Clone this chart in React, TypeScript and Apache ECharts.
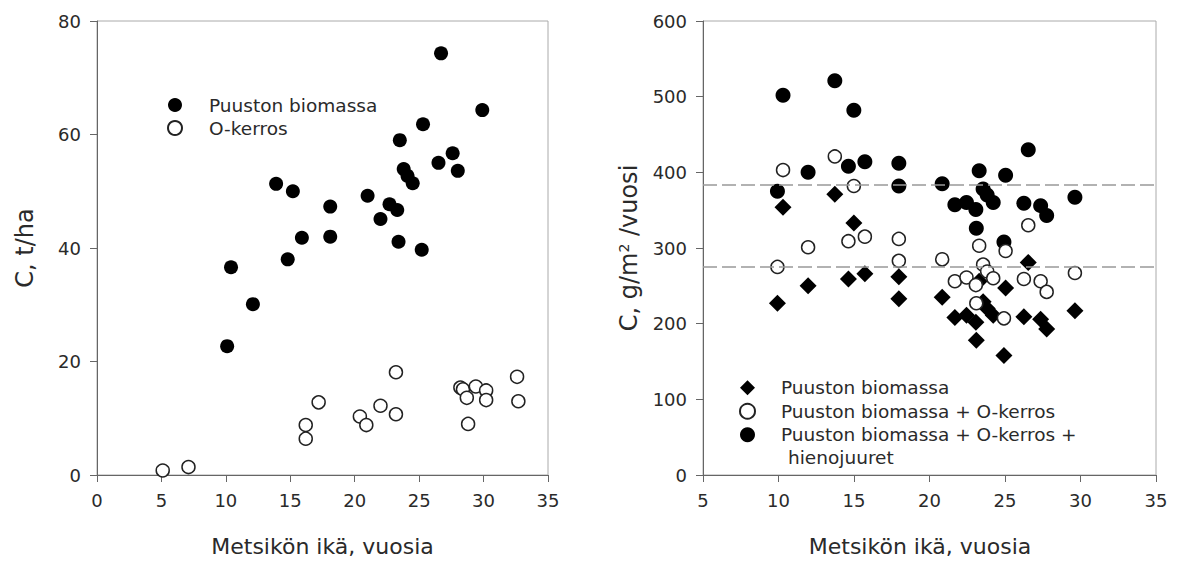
import React, { useEffect, useRef } from "react";
import * as echarts from "echarts";

// ---- Left panel: C, t/ha ----
const leftBiomassAge = [26.7, 29.9, 25.3, 23.5, 27.6, 26.5, 28.0, 23.8, 24.1, 24.5, 13.9, 15.2, 21.0, 18.1, 22.7, 23.3, 22.0, 15.9, 18.1, 23.4, 25.2, 14.8, 10.4, 12.1, 10.1];
const leftBiomassC = [74.3, 64.3, 61.8, 59.0, 56.7, 55.0, 53.6, 53.9, 52.7, 51.4, 51.3, 50.0, 49.2, 47.3, 47.7, 46.7, 45.1, 41.8, 42.0, 41.1, 39.7, 38.0, 36.6, 30.1, 22.7];
const leftOAge = [5.1, 7.1, 16.2, 16.2, 17.2, 20.4, 20.9, 22.0, 23.2, 23.2, 28.2, 28.4, 28.7, 28.8, 29.4, 30.2, 30.2, 32.6, 32.7];
const leftOC = [0.8, 1.4, 8.8, 6.4, 12.8, 10.3, 8.8, 12.2, 18.1, 10.7, 15.4, 15.1, 13.6, 9.0, 15.6, 14.9, 13.2, 17.3, 13.0];

// ---- Right panel: C, g/m2 /vuosi ----
const rightAge = [9.93, 10.3, 11.96, 13.73, 14.63, 14.99, 15.72, 17.97, 17.97, 20.84, 21.68, 22.45, 23.07, 23.1, 23.29, 23.55, 23.82, 24.22, 24.93, 25.04, 26.25, 26.54, 27.36, 27.76, 29.63];
const rightTotal = [375, 502, 400, 521, 408, 482, 414, 412, 382, 385, 357, 360, 351, 326, 402, 378, 370, 360, 308, 396, 359, 430, 356, 343, 367];
const rightWithO = [275, 403, 301, 421, 309, 382, 315, 312, 283, 285, 256, 261, 251, 227, 303, 278, 269, 260, 207, 296, 259, 330, 256, 242, 267];
const rightBiomass = [227, 354, 250, 371, 259, 333, 266, 262, 233, 235, 208, 211, 202, 178, 256, 229, 220, 211, 158, 247, 209, 281, 206, 193, 217];
const refLines = [383, 275];

const leftXTicks = { min: 0, max: 35, interval: 5 };
const leftYTicks = { min: 0, max: 80, interval: 20 };
const rightXTicks = { min: 5, max: 35, interval: 5 };
const rightYTicks = { min: 0, max: 600, interval: 100 };

const LABELS: Record<string, string> = {
  L1: "Puuston biomassa",
  L2: "O-kerros",
  R1: "Puuston biomassa",
  R2: "Puuston biomassa + O-kerros",
  R3: "Puuston biomassa + O-kerros +",
};

const zip = (a: number[], b: number[]) => a.map((v, i) => [v, b[i]]);

const FONT = "DejaVu Sans";
const TXT = "#2a2a2a";

export default function App() {
  const ref = useRef<HTMLDivElement>(null);
  useEffect(() => {
    if (!ref.current) return;
    const chart = echarts.init(ref.current, null, { renderer: "svg" });
    const axisCommon = {
      type: "value" as const,
      splitLine: { show: false },
      axisLine: { show: true, onZero: false, lineStyle: { color: "#666", width: 1 } },
      axisTick: { show: true, inside: false, length: 7, lineStyle: { color: "#666" } },
      axisLabel: { color: TXT, fontSize: 18, fontFamily: FONT, margin: 16 },
    };
    const xName = {
      name: "Metsikön ikä, vuosia",
      nameLocation: "middle" as const,
      nameGap: 60,
      nameTextStyle: { color: TXT, fontSize: 22, fontFamily: FONT },
    };
    const open = { color: "#fff", borderColor: "#222", borderWidth: 1.5, opacity: 1 };
    const filled = { color: "#000", opacity: 1 };
    chart.setOption({
      animation: false,
      backgroundColor: "#fff",
      textStyle: { fontFamily: FONT },
      grid: [
        { left: 97, top: 21, width: 451, height: 454, show: true, borderColor: "#aaa", borderWidth: 1, backgroundColor: "transparent" },
        { left: 703, top: 21, width: 453, height: 454, show: true, borderColor: "#aaa", borderWidth: 1, backgroundColor: "transparent" },
      ],
      xAxis: [
        { ...axisCommon, ...xName, gridIndex: 0, ...leftXTicks },
        { ...axisCommon, ...xName, gridIndex: 1, ...rightXTicks, nameTextStyle: { ...xName.nameTextStyle, padding: [0, 19, 0, 0] } },
      ],
      yAxis: [
        {
          ...axisCommon, gridIndex: 0, ...leftYTicks,
          name: "C, t/ha", nameLocation: "middle", nameGap: 60,
          nameTextStyle: { color: TXT, fontSize: 24, fontFamily: FONT },
        },
        {
          ...axisCommon, gridIndex: 1, ...rightYTicks,
          name: "C, g/m{sup|2} /vuosi", nameLocation: "middle", nameGap: 62,
          nameTextStyle: {
            color: TXT, fontSize: 24, fontFamily: FONT,
            rich: { sup: { fontSize: 14, verticalAlign: "top", color: TXT, fontFamily: FONT } },
          },
        },
      ],
      legend: [
        {
          orient: "vertical", left: 162, top: 88.5, itemWidth: 14, itemHeight: 14, itemGap: 0,
          selectedMode: false,
          formatter: (n: string) => LABELS[n],
          textStyle: { color: TXT, fontSize: 18.5, fontFamily: FONT, lineHeight: 23, padding: [0, 0, 0, 22] },
          data: [{ name: "L1", icon: "circle" }, { name: "L2", icon: "circle" }],
        },
        {
          orient: "vertical", left: 734, top: 371, itemWidth: 15, itemHeight: 15, itemGap: 0,
          selectedMode: false,
          formatter: (n: string) => LABELS[n],
          textStyle: { color: TXT, fontSize: 18.5, fontFamily: FONT, lineHeight: 23.5, padding: [0, 0, 0, 21] },
          data: [{ name: "R1", icon: "diamond" }, { name: "R2", icon: "circle" }, { name: "R3", icon: "circle" }],
        },
      ],
      graphic: [
        {
          type: "text", left: 788, top: 448,
          style: { text: "hienojuuret", fill: TXT, fontSize: 18.5, fontFamily: FONT },
        },
      ],
      series: [
        { name: "L1", type: "scatter", xAxisIndex: 0, yAxisIndex: 0, symbol: "circle", symbolSize: 14, itemStyle: filled, data: zip(leftBiomassAge, leftBiomassC) },
        { name: "L2", type: "scatter", xAxisIndex: 0, yAxisIndex: 0, symbol: "circle", symbolSize: 13, itemStyle: open, data: zip(leftOAge, leftOC) },
        { name: "R1", type: "scatter", xAxisIndex: 1, yAxisIndex: 1, symbol: "diamond", symbolSize: 17, itemStyle: filled, data: zip(rightAge, rightBiomass) },
        { name: "R3", type: "scatter", xAxisIndex: 1, yAxisIndex: 1, symbol: "circle", symbolSize: 15, itemStyle: filled, data: zip(rightAge, rightTotal) },
        {
          name: "R2", type: "scatter", xAxisIndex: 1, yAxisIndex: 1, symbol: "circle", symbolSize: 13, itemStyle: open, data: zip(rightAge, rightWithO),
          markLine: {
            silent: true, symbol: "none", label: { show: false },
            lineStyle: { color: "#999", type: [14, 5], width: 1.5 },
            data: refLines.map((v) => ({ yAxis: v })),
          },
        },
      ],
    });
    return () => chart.dispose();
  }, []);
  return <div ref={ref} style={{ position: "absolute", left: 0, top: 0, width: 1178, height: 562 }} />;
}
